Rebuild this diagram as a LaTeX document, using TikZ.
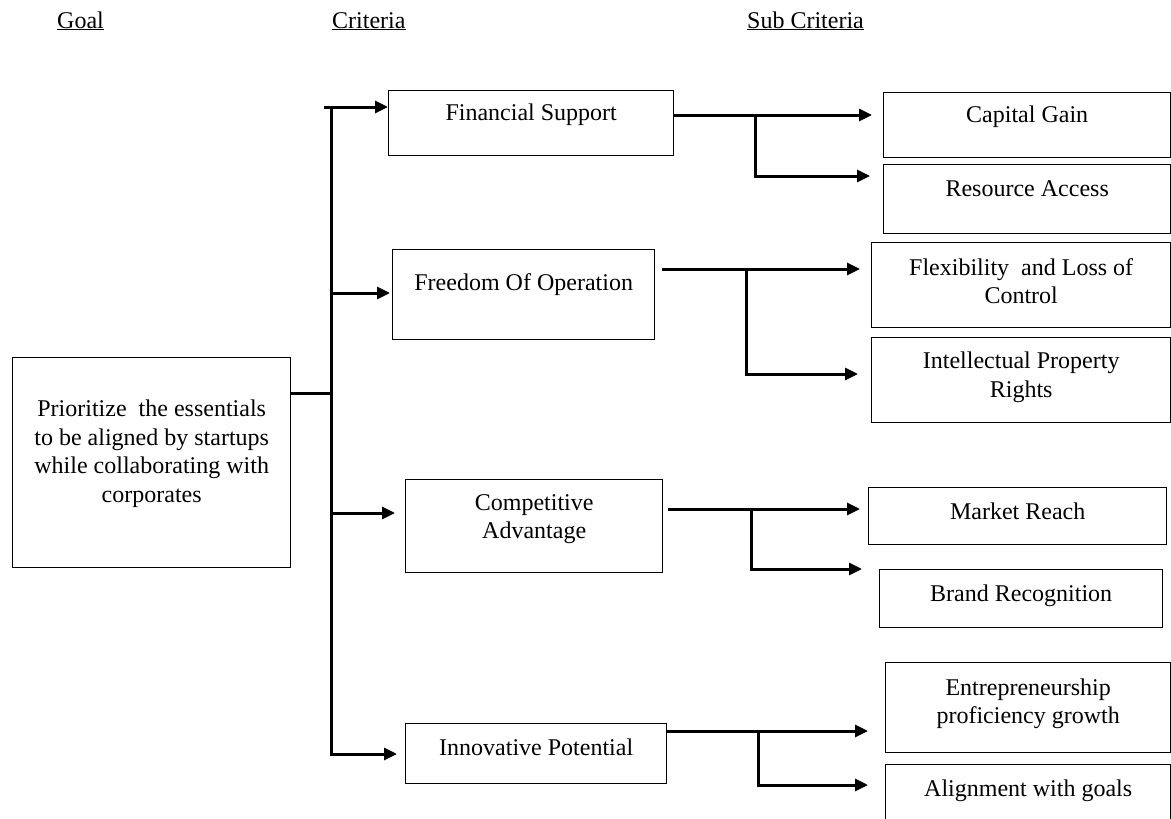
\documentclass[tikz,border=0pt]{standalone}
\usepackage{fontspec}
\setmainfont{Liberation Serif}
\usetikzlibrary{arrows.meta}
\begin{document}
\begin{tikzpicture}[x=1pt,y=-1pt,
  font=\fontsize{24}{28.5}\selectfont,
  box/.style={draw,line width=1.4pt,rectangle,anchor=north west,inner sep=0pt},
  conn/.style={line width=3pt},
  arr/.style={conn,-{Triangle[length=13pt,width=12pt]}},
  every label/.style={align=center,inner sep=0pt},
  hdr/.style={anchor=base west,inner sep=0pt}]
\useasboundingbox (0,0) rectangle (1171,819);
% column headers
\node[hdr] (hgoal) at (57,28) {\underline{Goal}};
\node[hdr] (hcrit) at (332,28) {\underline{Criteria}};
\node[hdr] (hsub) at (747,28) {\underline{Sub Criteria}};
% goal
\node[box,minimum width=278pt,minimum height=210pt,
  label={[yshift=9pt]center:Prioritize\ \ the essentials\\to be aligned by startups\\while collaborating with\\corporates}] (goal) at (12,357) {};
% criteria
\node[box,minimum width=285pt,minimum height=65pt,
  label={[yshift=8pt]center:Financial Support}] (fin) at (388,90) {};
\node[box,minimum width=262pt,minimum height=90pt,
  label={[yshift=10pt]center:Freedom Of Operation}] (fre) at (392,249) {};
\node[box,minimum width=257pt,minimum height=93pt,
  label={[yshift=7pt]center:Competitive\\Advantage}] (com) at (405,479) {};
\node[box,minimum width=261pt,minimum height=60pt,
  label={[yshift=6pt]center:Innovative Potential}] (inn) at (405,723) {};
% sub criteria
\node[box,minimum width=287pt,minimum height=65pt,
  label={[yshift=8pt]center:Capital Gain}] (cap) at (883,92) {};
\node[box,minimum width=287pt,minimum height=69pt,
  label={[yshift=11pt]center:Resource Access}] (res) at (883,164) {};
\node[box,minimum width=299pt,minimum height=85pt,
  label={[yshift=4pt]center:Flexibility\ \ and Loss of\\Control}] (flx) at (871,242) {};
\node[box,minimum width=299pt,minimum height=85pt,
  label={[yshift=3pt]center:Intellectual Property\\Rights}] (ipr) at (871,337) {};
\node[box,minimum width=298pt,minimum height=57pt,
  label={[yshift=5pt]center:Market Reach}] (mkt) at (868,487) {};
\node[box,minimum width=283pt,minimum height=58pt,
  label={[yshift=3pt]center:Brand Recognition}] (brd) at (879,569) {};
\node[box,minimum width=285pt,minimum height=90pt,
  label={[yshift=4pt]center:Entrepreneurship\\proficiency growth}] (ent) at (885,662) {};
\node[box,minimum width=285pt,minimum height=66pt,
  label={[yshift=7pt]center:Alignment with goals}] (aln) at (885,764) {};
% trunk from the goal
\coordinate (j0) at (331,393);
\coordinate (j1) at (331,107);
\coordinate (j2) at (331,293);
\coordinate (j3) at (331,513);
\coordinate (j4) at (331,754);
\draw[conn] (goal.east |- j0) -- (j0);
\draw[arr] ([xshift=-7pt]j1) -- (fin.west |- j1);
\draw[arr,shorten >=8pt] (j1) -- (j4) -- (inn.west |- j4);
\draw[arr,shorten >=2pt] (j2) -- (fre.west |- j2);
\draw[arr,shorten >=10pt] (j3) -- (com.west |- j3);
% branches to sub criteria
\coordinate (s1) at (755,115);
\coordinate (s1b) at (755,176);
\draw[arr,shorten >=11pt] (fin.east |- s1) -- (cap.west |- s1);
\draw[arr,shorten >=13pt] (s1) -- (s1b) -- (res.west |- s1b);
\coordinate (s2) at (746,269);
\coordinate (s2b) at (746,374);
\draw[arr,shorten <=7pt,shorten >=11pt] (fre.east |- s2) -- (flx.west |- s2);
\draw[arr,shorten >=13pt] (s2) -- (s2b) -- (ipr.west |- s2b);
\coordinate (s3) at (751,509);
\coordinate (s3b) at (751,569);
\draw[arr,shorten <=5pt,shorten >=8pt] (com.east |- s3) -- (mkt.west |- s3);
\draw[arr,shorten >=17pt] (s3) -- (s3b) -- (brd.west |- s3b);
\coordinate (s4) at (758,731);
\coordinate (s4b) at (758,785);
\draw[arr,shorten >=17pt] (inn.east |- s4) -- (ent.west |- s4);
\draw[arr,shorten >=17pt] (s4) -- (s4b) -- (aln.west |- s4b);
\end{tikzpicture}
\end{document}
